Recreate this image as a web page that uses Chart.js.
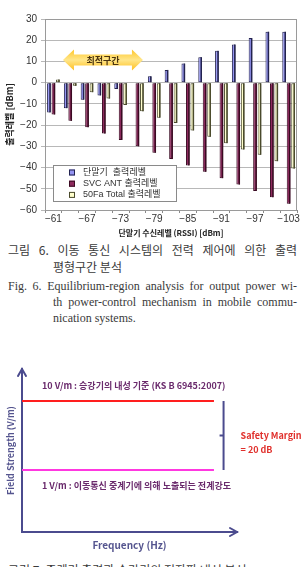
<!DOCTYPE html>
<html>
<head>
  <meta charset="utf-8">
  <title>출력 평형구간 분석</title>
  <script src="https://cdn.jsdelivr.net/npm/chart.js"></script>
  <style>
    html, body {
      margin: 0;
      padding: 0;
      background: #fff;
    }
    body {
      width: 302px;
      height: 567px;
      position: relative;
      overflow: hidden;
    }
    canvas {
      position: absolute;
      left: 0;
    }
    #powerChart { top: 0; }
    #marginChart { top: 360px; }
    .cap {
      position: absolute;
      line-height: 15px;
      color: #3a3a3a;
    }
    .just {
      text-align: justify;
      text-align-last: justify;
    }
    .ko {
      font-family: "Noto Sans CJK KR", sans-serif;
      font-size: 12px;
    }
    .en {
      font-family: "Liberation Serif", serif;
      font-size: 12px;
    }
  </style>
</head>
<body>
  <canvas id="powerChart" width="302" height="240"></canvas>

  <div class="cap ko just" style="left:8px; top:242px; width:289px;">그림 6. 이동 통신 시스템의 전력 제어에 의한 출력</div>
  <div class="cap ko" style="left:53px; top:259px;">평형구간 분석</div>
  <div class="cap en just" style="left:8px; top:279px; width:289px;">Fig. 6. Equilibrium-region analysis for output power wi-</div>
  <div class="cap en just" style="left:53px; top:295px; width:244px;">th power-control mechanism in mobile commu-</div>
  <div class="cap en" style="left:53px; top:311px;">nication systems.</div>

  <canvas id="marginChart" width="302" height="195"></canvas>

  <div class="cap ko" style="left:8px; top:562px;">그림 7. 중계기 출력과 승강기의 전자파 내성 분석</div>

  <script>
    // 그림 6 data (dBm)
    const rssiLabels = [-61, -64, -67, -70, -73, -76, -79, -82, -85, -88, -91, -94, -97, -100, -103];
    const terminalOut = [-14, -12, -8, -6, -3, 0, 3, 6, 9, 12, 15, 18, 21, 24, 24];
    const svcAntOut = [-15, -18, -21, -24, -27, -30, -33, -36, -39, -42, -45, -48, -51, -54, -57];
    const totalOut = [1.5, -1.5, -4.5, -7.5, -10.5, -13.5, -16.5, -19, -22.5, -25.5, -28.5, -31.5, -34, -37, -40.5];
    const yTicks = [30, 20, 10, 0, -10, -20, -30, -40, -50, -60];
    const seriesNames = ['단말기  출력레벨', 'SVC ANT 출력레벨', '50Fa Total 출력레벨'];
    const optimalRange = { from: 0.57, to: 5.33, level: 10.7, text: '최적구간' };

    // 그림 7 data (V/m)
    const freqSpan = [0, 100];
    const immunityLevel = 10;
    const exposureLevel = 1;
    const immunityText = '10 V/m : 승강기의 내성 기준 (KS B 6945:2007)';
    const exposureText = '1 V/m : 이동통신 중계기에 의해 노출되는 전계강도';

    const krFont = '"Liberation Sans", "Noto Sans CJK KR", sans-serif';
    Chart.defaults.font.family = krFont;
    Chart.defaults.color = '#333';

    function minus(v) {
      return v < 0 ? '\u2212' + Math.abs(v) : String(v);
    }

    const plotFrame = {
      id: 'plotFrame',
      beforeDatasetsDraw(chart) {
        const a = chart.chartArea;
        const ctx = chart.ctx;
        ctx.save();
        ctx.strokeStyle = '#9a9a9a';
        ctx.lineWidth = 1;
        ctx.strokeRect(a.left + 0.5, a.top + 0.5, a.right - a.left - 1, a.bottom - a.top);
        ctx.restore();
      }
    };

    const rangeArrow = {
      id: 'rangeArrow',
      afterDatasetsDraw(chart) {
        const ctx = chart.ctx;
        const x1 = chart.scales.x.getPixelForValue(optimalRange.from);
        const x2 = chart.scales.x.getPixelForValue(optimalRange.to);
        const cy = chart.scales.y.getPixelForValue(optimalRange.level);
        const head = 11, shaft = 5.5, wing = 10.5;
        ctx.save();
        const g = ctx.createLinearGradient(0, cy - wing, 0, cy + wing);
        g.addColorStop(0, '#ffc629');
        g.addColorStop(0.5, '#ffe68a');
        g.addColorStop(1, '#ffbf1f');
        ctx.fillStyle = g;
        ctx.beginPath();
        ctx.moveTo(x1, cy);
        ctx.lineTo(x1 + head, cy - wing);
        ctx.lineTo(x1 + head, cy - shaft);
        ctx.lineTo(x2 - head, cy - shaft);
        ctx.lineTo(x2 - head, cy - wing);
        ctx.lineTo(x2, cy);
        ctx.lineTo(x2 - head, cy + wing);
        ctx.lineTo(x2 - head, cy + shaft);
        ctx.lineTo(x1 + head, cy + shaft);
        ctx.lineTo(x1 + head, cy + wing);
        ctx.closePath();
        ctx.fill();
        ctx.fillStyle = '#4a3410';
        ctx.font = 'bold 9px "Noto Sans CJK KR", sans-serif';
        ctx.textAlign = 'center';
        ctx.textBaseline = 'middle';
        ctx.fillText(optimalRange.text, (x1 + x2) / 2, cy + 1);
        ctx.restore();
      }
    };

    // dark right face, like the 3-D columns of the original
    const barSides = {
      id: 'barSides',
      afterDatasetsDraw(chart) {
        const ctx = chart.ctx;
        ctx.save();
        chart.data.datasets.forEach((ds, i) => {
          chart.getDatasetMeta(i).data.forEach(bar => {
            const top = Math.min(bar.y, bar.base), bot = Math.max(bar.y, bar.base);
            if (bot - top < 1) return;
            ctx.fillStyle = ds.borderColor;
            ctx.fillRect(bar.x + bar.width / 2 - 1.5, top, 1.5, bot - top);
          });
        });
        ctx.restore();
      }
    };

    const insideLegend = {
      id: 'insideLegend',
      afterDatasetsDraw(chart) {
        const ctx = chart.ctx;
        const a = chart.chartArea;
        const bx = a.left + 8, by = a.bottom - 45, bw = 123, bh = 36;
        ctx.save();
        ctx.fillStyle = '#fff';
        ctx.fillRect(bx, by, bw, bh);
        ctx.strokeStyle = '#8a8a8a';
        ctx.lineWidth = 1;
        ctx.strokeRect(bx + 0.5, by + 0.5, bw, bh);
        ctx.font = '9px ' + krFont;
        ctx.textBaseline = 'middle';
        chart.data.datasets.forEach((ds, i) => {
          const cy = by + 7.5 + i * 11.2;
          ctx.fillStyle = ds.backgroundColor;
          ctx.fillRect(bx + 16, cy - 3, 6, 6);
          ctx.strokeStyle = ds.borderColor;
          ctx.strokeRect(bx + 16.5, cy - 2.5, 5, 5);
          ctx.fillStyle = '#333';
          ctx.fillText(ds.label, bx + 30, cy);
        });
        ctx.restore();
      }
    };

    new Chart(document.getElementById('powerChart'), {
      type: 'bar',
      data: {
        labels: rssiLabels,
        datasets: [
          { label: seriesNames[0], data: terminalOut, backgroundColor: '#9494f2', borderColor: '#23234f' },
          { label: seriesNames[1], data: svcAntOut, backgroundColor: '#8e2a5e', borderColor: '#3a0a22' },
          { label: seriesNames[2], data: totalOut, backgroundColor: '#ffffcc', borderColor: '#4a4a2c' }
        ]
      },
      options: {
        responsive: false,
        animation: false,
        layout: { padding: { top: 19, right: 5, left: 0, bottom: 0 } },
        datasets: {
          bar: {
            categoryPercentage: 0.8,
            barPercentage: 0.82,
            borderWidth: 1,
            borderSkipped: false
          }
        },
        plugins: {
          legend: { display: false },
          tooltip: { enabled: false }
        },
        scales: {
          x: {
            grid: { display: true, drawOnChartArea: false, color: '#8a8a8a', tickLength: 3 },
            border: { color: '#8a8a8a' },
            ticks: {
              autoSkip: false,
              maxRotation: 0,
              padding: 0,
              font: { size: 10 },
              callback: function(val, i) {
                return i % 2 === 0 ? minus(rssiLabels[i]) : '';
              }
            },
            title: {
              display: true,
              text: '단말기 수신레벨 (RSSI) [dBm]',
              font: { size: 8, weight: 'bold', family: '"Noto Sans CJK KR", sans-serif' },
              color: '#222',
              padding: { top: 0, bottom: 2 }
            },
            afterFit: function(scale) { scale.height = 30; }
          },
          y: {
            min: -60,
            max: 30,
            afterBuildTicks: function(scale) {
              scale.ticks = yTicks.map(v => ({ value: v }));
            },
            grid: { color: '#b8b8b8', tickLength: 4 },
            border: { color: '#8a8a8a' },
            ticks: {
              padding: 4,
              font: { size: 10 },
              callback: function(v) { return minus(v); }
            },
            title: {
              display: true,
              text: '출력레벨 [dBm]',
              font: { size: 9, weight: 'bold', family: '"Noto Sans CJK KR", sans-serif' },
              color: '#222',
              padding: { top: 4, bottom: 0 }
            },
            afterFit: function(scale) { scale.width = 45; }
          }
        }
      },
      plugins: [plotFrame, barSides, rangeArrow, insideLegend]
    });

    const axisArrows = {
      id: 'axisArrows',
      afterDraw(chart) {
        const ctx = chart.ctx;
        const a = chart.chartArea;
        const xs = chart.scales.x, ys = chart.scales.y;
        ctx.save();
        ctx.strokeStyle = '#4b4b8e';
        ctx.lineWidth = 2;
        ctx.lineCap = 'round';
        ctx.beginPath();
        ctx.moveTo(a.left - 4, a.top + 7);
        ctx.lineTo(a.left, a.top);
        ctx.lineTo(a.left + 4, a.top + 7);
        ctx.moveTo(a.right - 7, a.bottom - 4);
        ctx.lineTo(a.right, a.bottom);
        ctx.lineTo(a.right - 7, a.bottom + 4);
        ctx.stroke();

        // safety margin bracket
        const yTop = ys.getPixelForValue(immunityLevel);
        const yBot = ys.getPixelForValue(exposureLevel);
        const bxp = xs.getPixelForValue(105);
        const mid = (yTop + yBot) / 2;
        ctx.lineCap = 'butt';
        ctx.beginPath();
        ctx.moveTo(bxp, yTop);
        ctx.lineTo(bxp, yBot);
        ctx.moveTo(bxp, mid);
        ctx.lineTo(bxp - 4, mid);
        ctx.stroke();

        ctx.font = 'bold 9px "Noto Sans CJK KR", sans-serif';
        ctx.textBaseline = 'middle';
        ctx.fillStyle = '#6a2a6c';
        ctx.fillText(immunityText, a.left + 20, yTop - 15);
        ctx.fillText(exposureText, a.left + 20, yBot + 16);

        const marginDb = 20 * Math.log10(immunityLevel / exposureLevel);
        ctx.fillStyle = '#e0302c';
        ctx.fillText('Safety Margin', bxp + 17, mid);
        ctx.fillText('= ' + marginDb + ' dB', bxp + 17, mid + 14);
        ctx.restore();
      }
    };

    new Chart(document.getElementById('marginChart'), {
      type: 'line',
      data: {
        datasets: [
          {
            label: '내성 기준',
            data: freqSpan.map(f => ({ x: f, y: immunityLevel })),
            borderColor: '#ff1e1e',
            borderWidth: 2,
            pointRadius: 0
          },
          {
            label: '노출 전계강도',
            data: freqSpan.map(f => ({ x: f, y: exposureLevel })),
            borderColor: '#ff38e0',
            borderWidth: 2,
            pointRadius: 0
          }
        ]
      },
      options: {
        responsive: false,
        animation: false,
        layout: { padding: { top: 9, right: 65, left: 0, bottom: 0 } },
        plugins: {
          legend: { display: false },
          tooltip: { enabled: false }
        },
        scales: {
          x: {
            type: 'linear',
            min: 0,
            max: 112,
            grid: { display: false },
            border: { color: '#4b4b8e', width: 2 },
            ticks: { display: false },
            title: {
              display: true,
              text: 'Frequency (Hz)',
              color: '#55558f',
              font: { size: 10, weight: 'bold', family: '"Noto Sans CJK KR", sans-serif' },
              padding: { top: 0, bottom: 4 }
            },
            afterFit: function(scale) { scale.height = 23; }
          },
          y: {
            type: 'logarithmic',
            min: 0.126,
            max: 29,
            grid: { display: false },
            border: { color: '#4b4b8e', width: 2 },
            ticks: { display: false },
            title: {
              display: true,
              text: 'Field Strength (V/m)',
              color: '#55558f',
              font: { size: 9, weight: 'bold', family: '"Noto Sans CJK KR", sans-serif' },
              padding: { top: 5, bottom: 0 }
            },
            afterFit: function(scale) { scale.width = 22; }
          }
        }
      },
      plugins: [axisArrows]
    });
  </script>
</body>
</html>
